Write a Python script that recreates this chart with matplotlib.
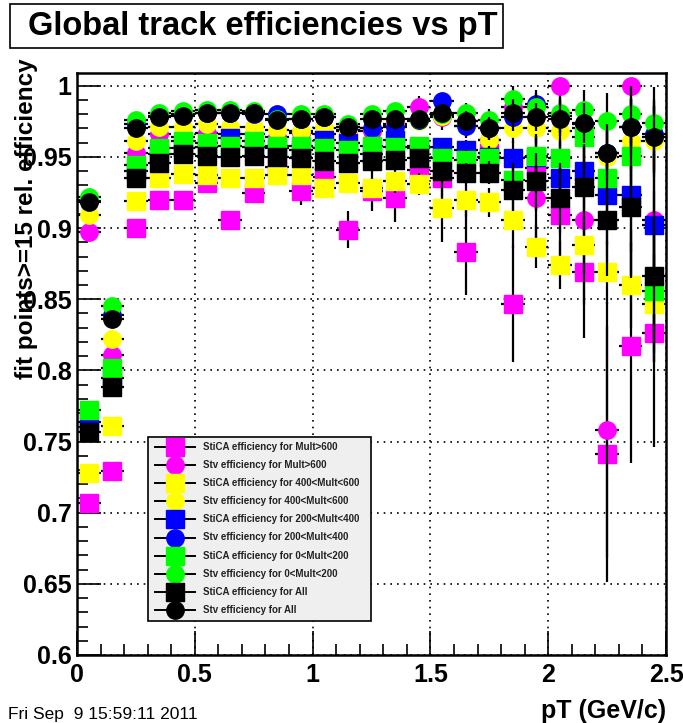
import numpy as np
import matplotlib
matplotlib.use("Agg")
import matplotlib.pyplot as plt
from matplotlib.patches import Rectangle
from matplotlib.lines import Line2D
from matplotlib.ticker import MultipleLocator

plt.rcParams['font.family'] = ['Liberation Sans', 'DejaVu Sans']

W, H = 683, 723

# pT bin centres (GeV/c), bin half-width 0.05
pt = [0.05, 0.15, 0.25, 0.35, 0.45, 0.55, 0.65, 0.75, 0.85, 0.95,
      1.05, 1.15, 1.25, 1.35, 1.45, 1.55, 1.65, 1.75, 1.85, 1.95,
      2.05, 2.15, 2.25, 2.35, 2.45]
half_bin = 0.05

# StiCA / Stv efficiencies per multiplicity class
stica_gt600 = [0.707, 0.729, 0.900, 0.920, 0.920, 0.932, 0.906, 0.925, 0.943, 0.926,
               0.936, 0.899, 0.926, 0.921, 0.941, 0.935, 0.883, 0.953, 0.847, 0.942,
               0.909, 0.869, 0.741, 0.817, 0.826]
stica_gt600_err = [0.005, 0.004, 0.003, 0.003, 0.003, 0.004, 0.004, 0.005, 0.005, 0.010,
                   0.007, 0.013, 0.014, 0.017, 0.012, 0.014, 0.030, 0.020, 0.041, 0.030,
                   0.035, 0.046, 0.090, 0.082, 0.080]

stv_gt600 = [0.897, 0.811, 0.953, 0.966, 0.964, 0.967, 0.966, 0.966, 0.964, 0.967,
             0.966, 0.968, 0.968, 0.973, 0.985, 0.978, 0.975, 0.962, 0.985, 0.921,
             1.000, 0.906, 0.758, 1.000, 0.906]
stv_gt600_err = [0.004, 0.004, 0.002, 0.002, 0.002, 0.002, 0.003, 0.003, 0.003, 0.004,
                 0.004, 0.005, 0.006, 0.007, 0.008, 0.009, 0.012, 0.014, 0.012, 0.030,
                 0.060, 0.060, 0.090, 0.070, 0.080]

stica_400_600 = [0.728, 0.761, 0.919, 0.935, 0.938, 0.937, 0.935, 0.935, 0.937, 0.937,
                 0.928, 0.932, 0.928, 0.933, 0.931, 0.914, 0.920, 0.918, 0.906, 0.887,
                 0.874, 0.888, 0.869, 0.860, 0.847]
stica_400_600_err = [0.004, 0.004, 0.002, 0.002, 0.002, 0.003, 0.003, 0.003, 0.004, 0.004,
                     0.006, 0.006, 0.007, 0.008, 0.008, 0.024, 0.012, 0.010, 0.020, 0.015,
                     0.017, 0.020, 0.022, 0.030, 0.035]

stv_400_600 = [0.909, 0.822, 0.961, 0.971, 0.971, 0.973, 0.971, 0.971, 0.969, 0.968,
               0.970, 0.969, 0.970, 0.972, 0.975, 0.979, 0.972, 0.962, 0.970, 0.970,
               0.968, 0.970, 0.950, 0.961, 0.961]
stv_400_600_err = [0.003, 0.003, 0.002, 0.002, 0.002, 0.002, 0.002, 0.002, 0.003, 0.003,
                   0.003, 0.004, 0.004, 0.005, 0.005, 0.006, 0.007, 0.008, 0.010, 0.010,
                   0.012, 0.014, 0.020, 0.020, 0.025]

stica_200_400 = [0.764, 0.795, 0.940, 0.952, 0.956, 0.957, 0.963, 0.957, 0.956, 0.955,
                 0.962, 0.960, 0.952, 0.962, 0.956, 0.957, 0.955, 0.950, 0.949, 0.950,
                 0.935, 0.940, 0.923, 0.923, 0.902]
stica_200_400_err = [0.003, 0.003, 0.002, 0.002, 0.002, 0.002, 0.002, 0.002, 0.003, 0.003,
                     0.003, 0.004, 0.004, 0.005, 0.005, 0.006, 0.007, 0.008, 0.012, 0.015,
                     0.020, 0.025, 0.035, 0.040, 0.050]

stv_200_400 = [0.919, 0.839, 0.973, 0.979, 0.980, 0.981, 0.981, 0.980, 0.980, 0.977,
               0.978, 0.971, 0.970, 0.971, 0.976, 0.989, 0.972, 0.970, 0.978, 0.987,
               0.979, 0.973, 0.953, 0.971, 0.966]
stv_200_400_err = [0.003, 0.003, 0.002, 0.002, 0.002, 0.002, 0.002, 0.002, 0.003, 0.003,
                   0.003, 0.004, 0.004, 0.005, 0.005, 0.006, 0.007, 0.008, 0.010, 0.010,
                   0.012, 0.014, 0.020, 0.020, 0.025]

stica_0_200 = [0.772, 0.802, 0.944, 0.956, 0.961, 0.960, 0.958, 0.961, 0.958, 0.958,
               0.956, 0.955, 0.958, 0.957, 0.958, 0.949, 0.948, 0.949, 0.934, 0.951,
               0.949, 0.964, 0.935, 0.951, 0.856]
stica_0_200_err = [0.003, 0.003, 0.002, 0.002, 0.002, 0.002, 0.002, 0.002, 0.003, 0.003,
                   0.003, 0.004, 0.004, 0.005, 0.005, 0.006, 0.007, 0.008, 0.012, 0.015,
                   0.020, 0.025, 0.035, 0.040, 0.050]

stv_0_200 = [0.922, 0.845, 0.976, 0.981, 0.982, 0.983, 0.983, 0.982, 0.977, 0.980,
             0.980, 0.973, 0.980, 0.982, 0.977, 0.980, 0.981, 0.976, 0.991, 0.985,
             0.981, 0.983, 0.975, 0.980, 0.974]
stv_0_200_err = [0.003, 0.003, 0.002, 0.002, 0.002, 0.002, 0.002, 0.002, 0.003, 0.003,
                 0.003, 0.004, 0.004, 0.005, 0.005, 0.006, 0.007, 0.008, 0.010, 0.010,
                 0.012, 0.014, 0.020, 0.020, 0.025]

stica_all = [0.757, 0.788, 0.935, 0.946, 0.952, 0.951, 0.950, 0.951, 0.950, 0.949,
             0.947, 0.946, 0.947, 0.948, 0.949, 0.940, 0.939, 0.939, 0.927, 0.933,
             0.921, 0.929, 0.906, 0.915, 0.866]
stica_all_err = [0.003, 0.003, 0.002, 0.002, 0.002, 0.002, 0.002, 0.002, 0.003, 0.003,
                 0.003, 0.004, 0.004, 0.005, 0.005, 0.006, 0.007, 0.008, 0.015, 0.020,
                 0.025, 0.030, 0.040, 0.050, 0.060]

stv_all = [0.918, 0.836, 0.970, 0.978, 0.979, 0.981, 0.981, 0.981, 0.976, 0.977,
           0.978, 0.971, 0.977, 0.977, 0.977, 0.981, 0.975, 0.970, 0.981, 0.978,
           0.977, 0.974, 0.953, 0.971, 0.964]
stv_all_err = [0.003, 0.003, 0.002, 0.002, 0.002, 0.002, 0.002, 0.002, 0.003, 0.003,
               0.003, 0.004, 0.004, 0.005, 0.005, 0.006, 0.007, 0.008, 0.010, 0.010,
               0.012, 0.014, 0.020, 0.020, 0.025]

labels = ["StiCA efficiency for Mult>600", "Stv efficiency for Mult>600",
          "StiCA efficiency for 400<Mult<600", "Stv efficiency for 400<Mult<600",
          "StiCA efficiency for 200<Mult<400", "Stv efficiency for 200<Mult<400",
          "StiCA efficiency for 0<Mult<200", "Stv efficiency for 0<Mult<200",
          "StiCA efficiency for All", "Stv efficiency for All"]

series = [
    (stica_gt600, stica_gt600_err, 's', '#ff00ff'),
    (stv_gt600, stv_gt600_err, 'o', '#ff00ff'),
    (stica_400_600, stica_400_600_err, 's', '#ffff00'),
    (stv_400_600, stv_400_600_err, 'o', '#ffff00'),
    (stica_200_400, stica_200_400_err, 's', '#0000ff'),
    (stv_200_400, stv_200_400_err, 'o', '#0000ff'),
    (stica_0_200, stica_0_200_err, 's', '#00ff00'),
    (stv_0_200, stv_0_200_err, 'o', '#00ff00'),
    (stica_all, stica_all_err, 's', '#000000'),
    (stv_all, stv_all_err, 'o', '#000000'),
]


def fpx(x, y):
    """pixel position -> figure fraction"""
    return x / W, 1 - y / H


fig = plt.figure(figsize=(W / 100, H / 100), dpi=100)
ax = fig.add_axes([77 / W, 1 - 655 / H, (666 - 77) / W, (655 - 73) / H])

ax.set_xlim(0, 2.5)
ax.set_ylim(0.6, 1.009)

ms = 12.5
for i, (vals, errs, mk, col) in enumerate(series):
    v = np.asarray(vals)
    e = np.asarray(errs)
    yerr = np.vstack([e, np.minimum(e, 1.0 - v)])
    ax.errorbar(pt, v, xerr=half_bin, yerr=yerr, fmt=mk, color=col,
                markerfacecolor=col, markeredgecolor=col, markersize=ms,
                ecolor='black', elinewidth=1.6, capsize=0, zorder=3 + i)

# axes styling
ax.xaxis.set_major_locator(MultipleLocator(0.5))
ax.xaxis.set_minor_locator(MultipleLocator(0.1))
ax.yaxis.set_major_locator(MultipleLocator(0.05))
ax.yaxis.set_minor_locator(MultipleLocator(0.01))
ax.tick_params(which='both', direction='in', top=False, right=False, color='black')
ax.tick_params(which='major', length=17, width=1.2)
ax.tick_params(which='minor', length=8, width=1.2)
ax.tick_params(axis='x', pad=6, labelsize=18)
ax.tick_params(axis='y', pad=4, labelsize=18)
ax.set_xticks([0, 0.5, 1, 1.5, 2, 2.5])
ax.set_xticklabels(['0', '0.5', '1', '1.5', '2', '2.5'], fontweight='bold', fontsize=18)
ax.set_yticks([0.6, 0.65, 0.7, 0.75, 0.8, 0.85, 0.9, 0.95, 1.0])
ax.set_yticklabels(['0.6', '0.65', '0.7', '0.75', '0.8', '0.85', '0.9', '0.95', '1'],
                   fontweight='bold', fontsize=18)
for s in ax.spines.values():
    s.set_linewidth(1.8)
ax.grid(True, which='major', color='black', linestyle=(0, (1, 3)), linewidth=1.2)
ax.set_axisbelow(True)

# axis titles (the y title runs over the tick labels, ROOT style)
fig.text(*fpx(27, 58), "fit points>=15 rel. efficiency", rotation=90,
         ha='center', va='top', fontsize=17.5, fontweight='bold')
fig.text(*fpx(666, 711), "pT (GeV/c)", ha='right', va='center',
         fontsize=18, fontweight='bold')

# title box
x0, y0 = fpx(10, 48)
fig.add_artist(Rectangle((x0, y0), (503 - 10) / W, (48 - 4) / H,
                         transform=fig.transFigure, facecolor='white',
                         edgecolor='black', linewidth=1.2, zorder=10))
fig.text(*fpx(28, 26), "Global track efficiencies vs pT", ha='left', va='center',
         fontsize=23.5, fontweight='bold', zorder=11)

# time stamp
fig.text(*fpx(8, 715), "Fri Sep  9 15:59:11 2011", ha='left', va='center',
         fontsize=12.5)

# legend box
lx0, ly0 = fpx(148, 621)
fig.add_artist(Rectangle((lx0, ly0), (371 - 148) / W, (621 - 437) / H,
                         transform=fig.transFigure, facecolor='#efefef',
                         edgecolor='black', linewidth=1.2, zorder=20))
for k, (lab, (_, _, mk, col)) in enumerate(zip(labels, series)):
    ry = 447 + k * 18.1
    xa, ya = fpx(155, ry)
    xb, _ = fpx(195, ry)
    xm, _ = fpx(175, ry)
    fig.add_artist(Line2D([xa, xb], [ya, ya], transform=fig.transFigure,
                          color='black', linewidth=1.4, zorder=21))
    fig.add_artist(Line2D([xm], [ya], transform=fig.transFigure, marker=mk,
                          markersize=ms, color=col, markeredgecolor=col,
                          linestyle='none', zorder=22))
    fig.text(*fpx(203, ry), lab, ha='left', va='center', fontsize=7,
             fontweight='bold', color='#222222', zorder=23)

fig.savefig("out.png", dpi=100)
